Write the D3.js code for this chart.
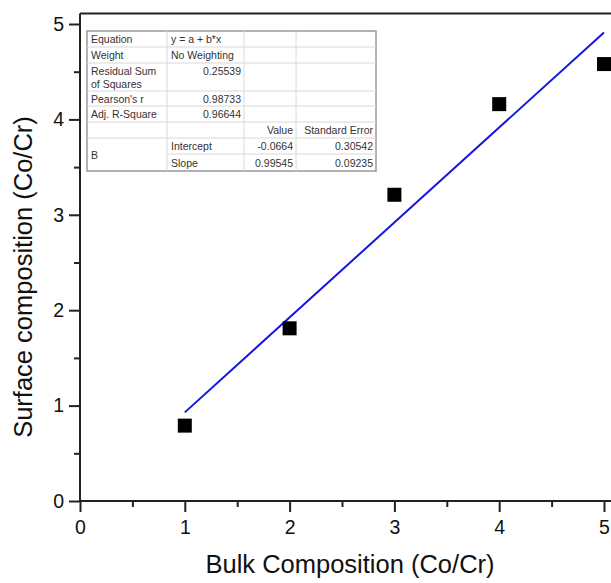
<!DOCTYPE html>
<html>
<head>
<meta charset="utf-8">
<script src="https://cdn.jsdelivr.net/npm/d3@7"></script>
<style>
  body { margin: 0; background: #fff; }
  text { font-family: "Liberation Sans", Arial, sans-serif; }
</style>
</head>
<body>
<script>
// data
var bulk = [1, 2, 3, 4, 5];
var surface = [0.79, 1.81, 3.21, 4.16, 4.58];
var intercept = -0.0664, slope = 0.99545;
var xTicks = [0, 1, 2, 3, 4, 5];
var yTicks = [0, 1, 2, 3, 4, 5];
var minorTicks = [0.5, 1.5, 2.5, 3.5, 4.5];
var tableRows = [
  ["Equation", "y = a + b*x", "", ""],
  ["Weight", "No Weighting", "", ""],
  ["Residual Sum\nof Squares", "0.25539", "", ""],
  ["Pearson's r", "0.98733", "", ""],
  ["Adj. R-Square", "0.96644", "", ""],
  ["", "", "Value", "Standard Error"],
  ["B", "Intercept", "-0.0664", "0.30542"],
  ["", "Slope", "0.99545", "0.09235"]
];

var width = 611, height = 583;
var svg = d3.select("body").append("svg").attr("width", width).attr("height", height);

var x = d3.scaleLinear().domain([0, 5]).range([80, 604]);
var y = d3.scaleLinear().domain([0, 5]).range([501, 24]);
var topV = 5.11;

// top frame line
svg.append("line")
  .attr("x1", x(0)).attr("x2", width + 5).attr("y1", y(topV)).attr("y2", y(topV))
  .attr("stroke", "#222").attr("stroke-width", 2);

// axes
var xAxis = svg.append("g").attr("transform", "translate(0," + y(0) + ")")
  .call(d3.axisBottom(x).tickValues(xTicks).tickFormat(d3.format("d")).tickSize(11).tickPadding(8));
var xMinor = svg.append("g").attr("transform", "translate(0," + y(0) + ")")
  .call(d3.axisBottom(x).tickValues(minorTicks).tickFormat("").tickSize(6));
var yAxis = svg.append("g").attr("transform", "translate(" + x(0) + ",0)")
  .call(d3.axisLeft(y).tickValues(yTicks).tickFormat(d3.format("d")).tickSize(11).tickPadding(5));
var yMinor = svg.append("g").attr("transform", "translate(" + x(0) + ",0)")
  .call(d3.axisLeft(y).tickValues(minorTicks).tickFormat("").tickSize(6));

[xAxis, xMinor, yAxis, yMinor].forEach(function (g) {
  g.select(".domain").attr("stroke", "#222").attr("stroke-width", 2);
  g.selectAll(".tick line").attr("stroke", "#222").attr("stroke-width", 2);
  g.selectAll(".tick text").attr("font-size", 19.5).attr("fill", "#111")
    .style("font-family", "'Liberation Sans', Arial, sans-serif");
});
xMinor.select(".domain").remove();
yMinor.select(".domain").remove();
xAxis.select(".domain").attr("d", "M" + x(0) + ",0H" + (width + 5));
yAxis.select(".domain").attr("d", "M0," + y(topV) + "V" + y(0));

// axis titles
svg.append("text").attr("x", 350).attr("y", 573).attr("text-anchor", "middle")
  .attr("font-size", 25.5).attr("fill", "#111").text("Bulk Composition (Co/Cr)");
svg.append("text").attr("transform", "translate(32,277) rotate(-90)")
  .attr("text-anchor", "middle").attr("font-size", 25.5).attr("fill", "#111")
  .text("Surface composition (Co/Cr)");

// fit line
svg.append("line")
  .attr("x1", x(1)).attr("y1", y(intercept + slope * 1))
  .attr("x2", x(5)).attr("y2", y(intercept + slope * 5))
  .attr("stroke", "#1515e0").attr("stroke-width", 2);

// points
var s = 14;
svg.selectAll("rect.pt").data(bulk).join("rect").attr("class", "pt")
  .attr("x", function (d) { return x(d) - s / 2; })
  .attr("y", function (d, i) { return y(surface[i]) - s / 2; })
  .attr("width", s).attr("height", s).attr("fill", "#000");

// results table
var colX = [87, 167, 244, 296, 376];
var rowY = [31, 47, 63, 91, 106, 122, 138, 154, 171];
var tbl = svg.append("g");
tbl.append("rect").attr("x", colX[0]).attr("y", rowY[0])
  .attr("width", colX[4] - colX[0]).attr("height", rowY[8] - rowY[0])
  .attr("fill", "#fff").attr("stroke", "#999").attr("stroke-width", 1.5);
rowY.slice(1, -1).forEach(function (ry, i) {
  var x0 = (i === 6) ? colX[1] : colX[0];
  tbl.append("line").attr("x1", x0).attr("x2", colX[4]).attr("y1", ry).attr("y2", ry)
    .attr("stroke", "#d8d8d8").attr("stroke-width", 1);
});
colX.slice(1, -1).forEach(function (cx) {
  tbl.append("line").attr("x1", cx).attr("x2", cx).attr("y1", rowY[0]).attr("y2", rowY[8])
    .attr("stroke", "#d8d8d8").attr("stroke-width", 1);
});
tableRows.forEach(function (row, r) {
  row.forEach(function (cell, c) {
    if (!cell) return;
    var top = rowY[r], bot = rowY[r + 1];
    if (cell === "B") { bot = rowY[8]; }
    var numeric = /^-?[0-9.]+$/.test(cell) || cell === "Value" || cell === "Standard Error";
    var lines = cell.split("\n");
    var t = tbl.append("text").attr("font-size", 10.5).attr("fill", "#333")
      .attr("text-anchor", numeric ? "end" : "start");
    var tx = numeric ? colX[c + 1] - 3 : colX[c] + 4;
    if (lines.length > 1) {
      lines.forEach(function (ln, k) {
        t.append("tspan").attr("x", tx).attr("y", top + 12 + k * 13).text(ln);
      });
    } else if (r === 2) {
      t.attr("x", tx).attr("y", top + 12).text(cell);
    } else {
      t.attr("x", tx).attr("y", (top + bot) / 2 + 4).text(cell);
    }
  });
});
</script>
</body>
</html>
